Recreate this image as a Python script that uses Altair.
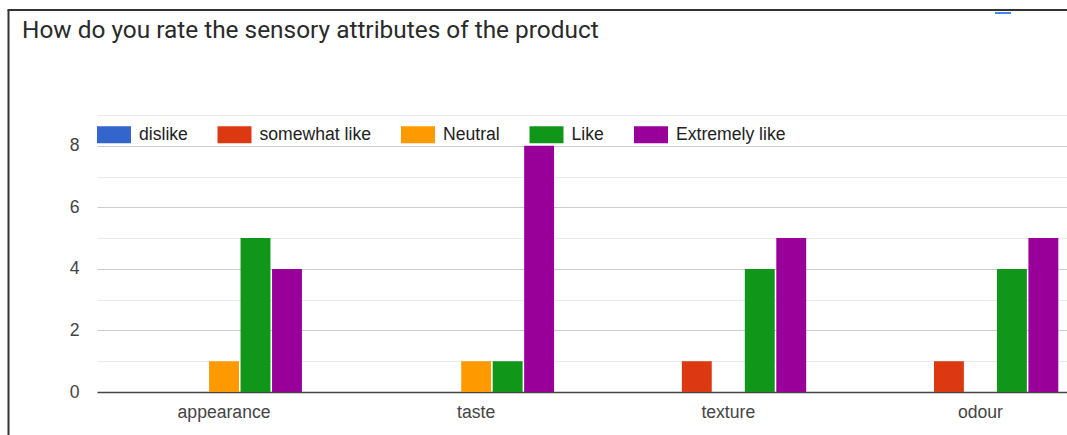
import altair as alt
import pandas as pd

chart_title = "How do you rate the sensory attributes of the product"
attributes = ["appearance", "taste", "texture", "odour"]
ratings = ["dislike", "somewhat like", "Neutral", "Like", "Extremely like"]
colors = ["#3366CC", "#DC3912", "#FF9900", "#109618", "#990099"]

dislike = [0, 0, 0, 0]
somewhat_like = [0, 0, 1, 1]
neutral = [1, 1, 0, 0]
like = [5, 1, 4, 4]
extremely_like = [4, 8, 5, 5]

y_ticks = [0, 1, 2, 3, 4, 5, 6, 7, 8, 9]

series = [dislike, somewhat_like, neutral, like, extremely_like]
rows = []
for rating, vals in zip(ratings, series):
    for attr, v in zip(attributes, vals):
        rows.append({"attribute": attr, "rating": rating, "count": v})
df = pd.DataFrame(rows)

LABEL_FONT = "Liberation Sans"
FS = 17.6

bars = alt.Chart(df).mark_bar().encode(
    x=alt.X(
        "attribute:N",
        sort=attributes,
        scale=alt.Scale(paddingInner=0.382, paddingOuter=0.1146, align=0.85),
        axis=alt.Axis(
            title=None, labelAngle=0, ticks=False, grid=False,
            domainColor="#444444", domainWidth=1.6,
            labelFont=LABEL_FONT, labelFontSize=FS, labelColor="#444444",
            labelPadding=11,
        ),
    ),
    xOffset=alt.XOffset("rating:N", sort=ratings,
                        scale=alt.Scale(paddingInner=0.05, paddingOuter=0)),
    y=alt.Y(
        "count:Q",
        scale=alt.Scale(domain=[0, 9], nice=False),
        axis=alt.Axis(
            title=None, values=y_ticks, domain=False, ticks=False,
            labelExpr="datum.value % 2 === 0 ? datum.label : ''",
            labelFont=LABEL_FONT, labelFontSize=FS, labelColor="#444444",
            labelPadding=18,
            gridColor={"condition": {"test": "datum.value % 2 === 0", "value": "#cccccc"},
                       "value": "#ebebeb"},
            gridWidth=1,
        ),
    ),
    color=alt.Color(
        "rating:N",
        sort=ratings,
        scale=alt.Scale(domain=ratings, range=colors),
        legend=alt.Legend(
            title=None, orient="none", legendX=0, legendY=2.5,
            direction="horizontal",
            symbolType="M-1,-0.5H1V0.5H-1Z", symbolSize=1156,
            symbolStrokeWidth=0, symbolOpacity=1,
            labelFont=LABEL_FONT, labelFontSize=FS, labelColor="#222222",
            labelOffset=8, columnPadding=29.5, padding=0,
        ),
    ),
)

one = pd.DataFrame({"k": [0]})
border_left = alt.Chart(one).mark_rule(color="#333333", strokeWidth=2).encode(
    x=alt.value(-88.5), y=alt.value(-105), y2=alt.value(330))
border_top = alt.Chart(one).mark_rule(color="#333333", strokeWidth=2).encode(
    x=alt.value(-89.5), x2=alt.value(980), y=alt.value(-105))
blue_mark = alt.Chart(one).mark_rule(color="#4285f4", strokeWidth=2).encode(
    x=alt.value(898), x2=alt.value(914), y=alt.value(-102))

chart = alt.layer(bars, border_left, border_top, blue_mark).properties(
    width=970,
    height=277,
    padding={"left": 97, "top": 115, "right": 0, "bottom": 43},
    autosize=alt.AutoSizeParams(type="none"),
    title=alt.Title(
        text=chart_title, anchor="start", frame="group",
        font="Roboto", fontSize=24.4, fontWeight="normal", color="#2a2a2a",
        dx=-75, offset=0, dy=53.5, baseline="alphabetic",
    ),
).configure_view(strokeWidth=0)

chart.save("out.html", embed_options={"renderer": "svg", "actions": False})
